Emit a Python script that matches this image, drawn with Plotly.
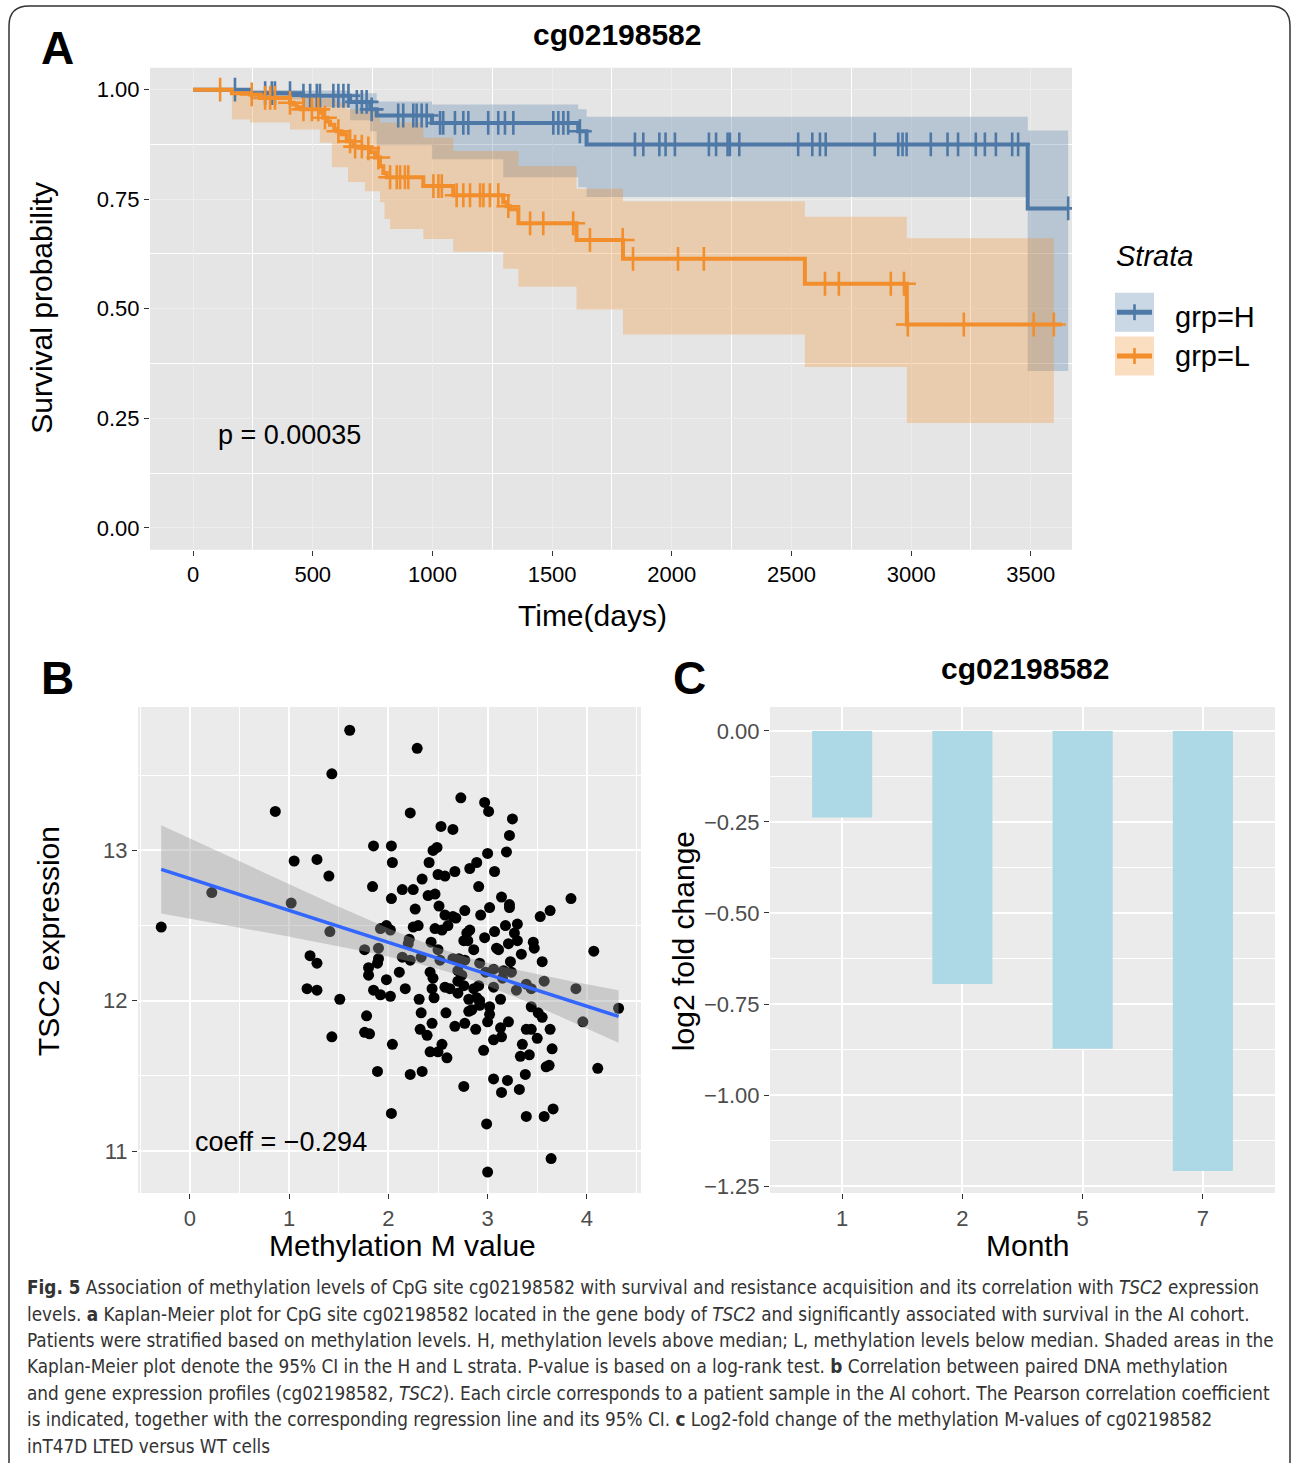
import numpy as np
import plotly.graph_objects as go

W, H = 1293, 1469

# ---------------- Panel A : Kaplan-Meier data ----------------
# grp=H (blue)
H_T = [0, 238, 459, 656, 740, 767, 998, 1609, 1644, 3487]
H_S = [1.0, 0.992, 0.986, 0.972, 0.955, 0.941, 0.924, 0.905, 0.875, 0.729]
H_END = 3656
H_UP_T = [0, 238, 459, 656, 767, 998, 1609, 1644, 3487]
H_UP_V = [1.0, 1.0, 0.998, 0.992, 0.973, 0.966, 0.955, 0.938, 0.907]
H_LO_T = [0, 238, 459, 656, 740, 767, 998, 1296, 1609, 1644, 3487]
H_LO_V = [1.0, 0.978, 0.96, 0.93, 0.905, 0.873, 0.841, 0.80, 0.777, 0.755, 0.358]
H_CENS = [175, 301, 329, 342, 405, 461, 489, 517, 530, 586, 607, 628, 649, 684, 705,
          725, 746, 857, 878, 920, 934, 955, 976, 1032, 1045, 1094, 1129, 1150, 1233,
          1275, 1303, 1338, 1505, 1526, 1547, 1567, 1616, 1846, 1881, 1948, 1974, 2013,
          2155, 2185, 2233, 2243, 2282, 2528, 2587, 2619, 2643, 2848, 2946, 2964, 2981,
          3082, 3152, 3196, 3270, 3308, 3354, 3422, 3447, 3656]

# grp=L (orange)
L_T = [0, 162, 238, 280, 405, 420, 433, 450, 530, 544, 560, 572, 590, 600, 620, 642,
       670, 711, 739, 760, 781, 795, 809, 962, 1087, 1296, 1310, 1324, 1359, 1602,
       1796, 2556, 2982]
L_S = [1.0, 0.992, 0.989, 0.981, 0.970, 0.966, 0.960, 0.955, 0.947, 0.936, 0.927,
       0.920, 0.910, 0.905, 0.898, 0.882, 0.870, 0.866, 0.857, 0.845, 0.825, 0.810,
       0.800, 0.780, 0.759, 0.743, 0.734, 0.727, 0.695, 0.657, 0.614, 0.557, 0.464]
L_END = 3630
L_UP_T = [0, 162, 405, 530, 600, 642, 781, 962, 1087, 1359, 1602, 1796, 2556, 2982]
L_UP_V = [1.0, 0.997, 0.99, 0.98, 0.97, 0.955, 0.925, 0.89, 0.86, 0.826, 0.774,
          0.745, 0.71, 0.661]
L_LO_T = [0, 162, 238, 405, 530, 580, 647, 718, 781, 800, 823, 962, 1087, 1296, 1359,
          1602, 1796, 2556, 2982]
L_LO_V = [1.0, 0.932, 0.925, 0.909, 0.879, 0.823, 0.789, 0.768, 0.743, 0.705, 0.682,
          0.659, 0.630, 0.591, 0.550, 0.498, 0.441, 0.367, 0.239]
L_BAND_END = 3596
L_CENS = [113, 245, 301, 322, 342, 405, 461, 496, 523, 551, 607, 656, 677, 705, 732,
          774, 823, 851, 865, 885, 899, 1004, 1025, 1039, 1101, 1129, 1157, 1199, 1213,
          1240, 1275, 1317, 1408, 1463, 1588, 1658, 1795, 1838, 2026, 2134, 2640, 2698,
          2915, 2970, 2986, 3220, 3512, 3596]

A_XTICKS = [0, 500, 1000, 1500, 2000, 2500, 3000, 3500]
A_YTICKS = [0.0, 0.25, 0.5, 0.75, 1.0]

# ---------------- Panel B : methylation vs expression ----------------
M_VAL = [-0.29, 0.22, 0.86, 1.02, 1.05, 1.28, 1.40, 1.43, 1.61, 2.29, 2.73, 2.97, 3.01,
         3.25, 2.22, 2.53, 2.65, 3.22, 3.19, 3.00, 1.85, 2.03, 2.45, 2.49, 2.04, 2.41,
         3.07, 2.89, 2.82, 2.67, 2.50, 2.57, 2.34, 1.84, 2.91, 2.14, 2.25, 2.40, 2.47,
         2.03, 3.14, 3.22, 3.22, 3.84, 3.63, 3.53, 2.51, 2.27, 2.57, 2.65, 2.68, 2.77,
         3.02, 2.93, 1.41, 1.92, 1.98, 2.02, 2.25, 2.30, 2.47, 2.54, 2.60, 2.79, 2.82,
         3.18, 3.30, 3.07, 2.97, 3.27, 2.76, 3.21, 3.30, 3.09, 3.46, 3.47, 2.86, 3.34,
         4.07, 2.43, 2.21, 2.20, 2.50, 1.76, 1.90, 1.21, 2.71, 3.23, 3.55, 2.14, 2.33,
         1.90, 2.92, 1.28, 1.80, 1.89, 1.80, 2.22, 2.52, 2.65, 3.06, 3.16, 3.24, 2.70,
         2.74, 2.98, 2.42, 2.45, 3.06, 3.15, 3.29, 3.39, 3.44, 3.57, 3.89, 4.32, 3.96,
         1.98, 2.11, 2.17, 1.85, 1.92, 2.02, 1.18, 1.28, 1.51, 2.31, 2.44, 2.46, 2.57,
         2.62, 2.70, 2.76, 2.86, 2.91, 2.89, 2.92, 2.81, 3.13, 3.44, 3.51, 3.55, 3.02,
         3.02, 2.81, 2.92, 2.33, 2.58, 1.78, 1.76, 1.81, 1.43, 2.04, 2.32, 2.39, 2.44,
         2.67, 2.77, 2.88, 3.00, 3.13, 3.21, 3.14, 3.06, 3.39, 3.44, 3.63, 3.50, 3.65,
         3.35, 2.96, 2.54, 2.42, 2.50, 2.59, 3.33, 3.42, 4.11, 3.59, 3.62, 3.38, 1.89,
         2.22, 2.34, 2.76, 3.06, 3.20, 3.14, 3.32, 2.03, 2.99, 3.39, 3.57, 3.66, 3.64,
         3.00, 2.80, 2.77, 2.70, 3.11, 2.84]
E_VAL = [12.49, 12.72, 13.26, 12.65, 12.93, 12.94, 12.83, 13.51, 13.80, 13.68, 13.35,
         13.32, 13.26, 13.21, 13.25, 13.16, 13.14, 13.10, 12.99, 12.98, 13.03, 13.03,
         13.00, 13.02, 12.92, 12.92, 12.86, 12.92, 12.88, 12.86, 12.84, 12.83, 12.81,
         12.76, 12.76, 12.74, 12.74, 12.70, 12.71, 12.68, 12.69, 12.64, 12.62, 12.68,
         12.60, 12.56, 12.63, 12.61, 12.57, 12.56, 12.55, 12.60, 12.62, 12.57, 12.46,
         12.48, 12.50, 12.47, 12.49, 12.50, 12.48, 12.47, 12.50, 12.45, 12.47, 12.50,
         12.51, 12.46, 12.42, 12.45, 12.40, 12.38, 12.40, 12.35, 12.39, 12.35, 12.34,
         12.31, 12.33, 12.39, 12.41, 12.38, 12.34, 12.34, 12.35, 12.30, 12.28, 12.26,
         12.26, 12.29, 12.29, 12.28, 12.25, 12.25, 12.22, 12.25, 12.17, 12.27, 12.27,
         12.28, 12.21, 12.20, 12.19, 12.20, 12.17, 12.19, 12.19, 12.15, 12.09, 12.15,
         12.07, 12.11, 12.08, 12.13, 12.08, 11.95, 11.86, 12.14, 12.19, 12.08, 12.07,
         12.04, 12.03, 12.08, 12.07, 12.01, 12.01, 12.08, 12.02, 12.09, 12.08, 12.05,
         12.10, 12.08, 12.10, 12.02, 12.00, 12.01, 12.01, 11.96, 11.92, 11.89, 11.96,
         11.91, 11.93, 11.97, 11.92, 11.92, 11.90, 11.79, 11.78, 11.76, 11.71, 11.81,
         11.77, 11.85, 11.83, 11.85, 11.81, 11.86, 11.82, 11.86, 11.76, 11.74, 11.81,
         11.81, 11.81, 11.75, 11.68, 11.71, 11.67, 11.71, 11.66, 11.66, 11.62, 11.63,
         11.64, 11.55, 11.56, 11.57, 11.51, 11.53, 11.51, 11.53, 11.43, 11.48, 11.47,
         11.39, 11.41, 11.25, 11.18, 11.23, 11.23, 11.28, 10.95, 10.86, 12.40, 12.27,
         12.13, 12.34, 11.94]
B_XTICKS = [0, 1, 2, 3, 4]
B_YTICKS = [11, 12, 13]

# ---------------- Panel C : log2 fold change ----------------
MONTHS = ["1", "2", "5", "7"]
LOG2FC = [-0.238, -0.695, -0.873, -1.209]
C_YTICKS = [0.0, -0.25, -0.5, -0.75, -1.0, -1.25]

CAPTION = [
    "<b>Fig. 5</b> Association of methylation levels of CpG site cg02198582 with survival and resistance acquisition and its correlation with <i>TSC2</i> expression",
    "levels. <b>a</b> Kaplan-Meier plot for CpG site cg02198582 located in the gene body of <i>TSC2</i> and significantly associated with survival in the AI cohort.",
    "Patients were stratified based on methylation levels. H, methylation levels above median; L, methylation levels below median. Shaded areas in the",
    "Kaplan-Meier plot denote the 95% CI in the H and L strata. P-value is based on a log-rank test. <b>b</b> Correlation between paired DNA methylation",
    "and gene expression profiles (cg02198582, <i>TSC2</i>). Each circle corresponds to a patient sample in the AI cohort. The Pearson correlation coefficient",
    "is indicated, together with the corresponding regression line and its 95% CI. <b>c</b> Log2-fold change of the methylation M-values of cg02198582",
    "inT47D LTED versus WT cells",
]

# ---------------- helpers ----------------
FONT = "Liberation Sans, Arial, Helvetica, sans-serif"
BLUE = "#4E79A7"
ORANGE = "#F28E2B"


def step_xy(t, v, t_end):
    xs, ys = [], []
    for i in range(len(t)):
        nxt = t[i + 1] if i + 1 < len(t) else t_end
        xs += [t[i], nxt]
        ys += [v[i], v[i]]
    return xs, ys


def band(ut, uv, lt, lv, t_end):
    ux, uy = step_xy(ut, uv, t_end)
    lx, ly = step_xy(lt, lv, t_end)
    return ux + lx[::-1], uy + ly[::-1]


def surv_at(t, s, times):
    idx = np.searchsorted(np.array(t), np.array(times), side="right") - 1
    return [s[i] for i in idx]


def px(x, y):
    return x / W, 1 - y / H


fig = go.Figure()

# ---- Panel A traces ----
bx, by = band(H_UP_T, H_UP_V, H_LO_T, H_LO_V, H_END)
fig.add_trace(go.Scatter(x=bx, y=by, fill="toself", fillcolor="rgba(78,121,167,0.3)",
                         line=dict(width=0), mode="lines", hoverinfo="skip",
                         showlegend=False, xaxis="x", yaxis="y"))
bx, by = band(L_UP_T, L_UP_V, L_LO_T, L_LO_V, L_BAND_END)
fig.add_trace(go.Scatter(x=bx, y=by, fill="toself", fillcolor="rgba(242,142,43,0.3)",
                         line=dict(width=0), mode="lines", hoverinfo="skip",
                         showlegend=False, xaxis="x", yaxis="y"))
for T, S, END, CENS, col in [(H_T, H_S, H_END, H_CENS, BLUE),
                             (L_T, L_S, L_END, L_CENS, ORANGE)]:
    fig.add_trace(go.Scatter(x=T + [END], y=S + [S[-1]], mode="lines",
                             line=dict(color=col, width=4, shape="hv"),
                             showlegend=False, xaxis="x", yaxis="y"))
    fig.add_trace(go.Scatter(x=CENS, y=surv_at(T, S, CENS), mode="markers",
                             marker=dict(symbol="cross-thin", size=17,
                                         line=dict(color=col, width=2.6)),
                             showlegend=False, xaxis="x", yaxis="y"))

# ---- Panel B traces ----
mx = np.array(M_VAL)
ey = np.array(E_VAL)
fig.add_trace(go.Scatter(x=M_VAL, y=E_VAL, mode="markers",
                         marker=dict(color="black", size=11),
                         showlegend=False, xaxis="x2", yaxis="y2"))
slope, icpt = np.polyfit(mx, ey, 1)
n = len(mx)
resid = ey - (slope * mx + icpt)
s_err = np.sqrt(np.sum(resid ** 2) / (n - 2))
sxx = np.sum((mx - mx.mean()) ** 2)
xg = np.linspace(mx.min(), mx.max(), 80)
yg = slope * xg + icpt
se = s_err * np.sqrt(1 / n + (xg - mx.mean()) ** 2 / sxx)
tq = 1.972
fig.add_trace(go.Scatter(x=list(xg) + list(xg[::-1]),
                         y=list(yg + tq * se) + list((yg - tq * se)[::-1]),
                         fill="toself", fillcolor="rgba(153,153,153,0.4)",
                         line=dict(width=0), mode="lines", hoverinfo="skip",
                         showlegend=False, xaxis="x2", yaxis="y2"))
fig.add_trace(go.Scatter(x=xg, y=yg, mode="lines", line=dict(color="#3366FF", width=3.5),
                         showlegend=False, xaxis="x2", yaxis="y2"))

# ---- Panel C traces ----
fig.add_trace(go.Bar(x=MONTHS, y=LOG2FC, width=0.5, marker=dict(color="#ADD8E6", line=dict(width=0)),
                     showlegend=False, xaxis="x3", yaxis="y3"))

# ---- axes ----
tickA = dict(family=FONT, size=22, color="black")
tickBC = dict(family=FONT, size=22, color="#4D4D4D")
common = dict(ticks="outside", ticklen=5, tickwidth=1.2, tickcolor="#333333",
              showline=False, zeroline=False)

xa = px(150, 0)[0], px(1072, 0)[0]
ya = px(0, 552)[1], px(0, 68)[1]
xb = px(138, 0)[0], px(641, 0)[0]
yb = px(0, 1198)[1], px(0, 710)[1]
xc = px(770, 0)[0], px(1275, 0)[0]

fig.update_layout(
    xaxis=dict(domain=list(xa), anchor="y", range=[-180, 3672], tickvals=A_XTICKS,
               showgrid=True, gridcolor="#EDEDED", gridwidth=1, tickfont=tickA,
               minor=dict(tick0=250, dtick=500, showgrid=True, gridcolor="white",
                          gridwidth=1.3, ticks=""), **common),
    yaxis=dict(domain=list(ya), anchor="x", range=[-0.05, 1.05], tickvals=A_YTICKS,
               tickformat=".2f", showgrid=True, gridcolor="#EDEDED", gridwidth=1,
               tickfont=tickA,
               minor=dict(tick0=0.125, dtick=0.25, showgrid=True, gridcolor="white",
                          gridwidth=1.3, ticks=""), **common),
    xaxis2=dict(domain=list(xb), anchor="y2", range=[-0.524, 4.546], tickvals=B_XTICKS,
                showgrid=True, gridcolor="white", gridwidth=2.2, tickfont=tickBC,
                minor=dict(tick0=0.5, dtick=1, showgrid=True, gridcolor="white",
                           gridwidth=1.1, ticks=""), **common),
    yaxis2=dict(domain=list(yb), anchor="x2", range=[10.72, 13.954], tickvals=B_YTICKS,
                showgrid=True, gridcolor="white", gridwidth=2.2, tickfont=tickBC,
                minor=dict(tick0=10.5, dtick=1, showgrid=True, gridcolor="white",
                           gridwidth=1.1, ticks=""), **common),
    xaxis3=dict(domain=list(xc), anchor="y3", type="category", range=[-0.6, 3.6],
                showgrid=True, gridcolor="white", gridwidth=2.2, tickfont=tickBC, **common),
    yaxis3=dict(domain=list(yb), anchor="x3", range=[-1.2695, 0.0656], tickvals=C_YTICKS,
                tickformat=".2f", showgrid=True, gridcolor="white", gridwidth=2.2,
                tickfont=tickBC,
                minor=dict(tick0=-0.125, dtick=0.25, showgrid=True, gridcolor="white",
                           gridwidth=1.1, ticks=""), **common),
)

shapes = []
# panel backgrounds
for xr, yr, col in [("x", "y", "#E5E5E5"), ("x2", "y2", "#EBEBEB"), ("x3", "y3", "#EBEBEB")]:
    shapes.append(dict(type="rect", xref=xr + " domain", yref=yr + " domain",
                       x0=0, x1=1, y0=0, y1=1, fillcolor=col, line=dict(width=0),
                       layer="below"))

# legend keys for panel A
for (y0, y1, fill, col) in [(294, 333, "rgb(202,215,229)", BLUE),
                            (338, 377, "rgb(251,221,191)", ORANGE)]:
    xa0, ya0 = px(1115, y0)
    xa1, ya1 = px(1154, y1)
    shapes.append(dict(type="rect", xref="paper", yref="paper", x0=xa0, x1=xa1,
                       y0=ya1, y1=ya0, fillcolor=fill, line=dict(width=0)))
    ym = (y0 + y1) / 2
    lx0, ly = px(1117, ym)
    lx1, _ = px(1152, ym)
    shapes.append(dict(type="line", xref="paper", yref="paper", x0=lx0, x1=lx1,
                       y0=ly, y1=ly, line=dict(color=col, width=5)))
    cx, cy0 = px(1134.5, ym - 8)
    _, cy1 = px(1134.5, ym + 8)
    shapes.append(dict(type="line", xref="paper", yref="paper", x0=cx, x1=cx,
                       y0=cy0, y1=cy1, line=dict(color=col, width=2.6)))

# outer rounded border
def pp(x, y):
    a, b = px(x, y)
    return f"{a:.5f},{b:.5f}"

border = (f"M {pp(9, 1469)} L {pp(9, 26)} Q {pp(9, 6)} {pp(29, 6)} "
          f"L {pp(1270, 6)} Q {pp(1290, 6)} {pp(1290, 26)} L {pp(1290, 1469)}")
shapes.append(dict(type="path", xref="paper", yref="paper", path=border,
                   line=dict(color="#333333", width=1.5)))

annotations = []


def ann(text, x, y, size, xanchor="center", angle=0, color="black", bold=False,
        italic=False, family=FONT):
    if bold:
        text = f"<b>{text}</b>"
    if italic:
        text = f"<i>{text}</i>"
    xp, yp = px(x, y)
    annotations.append(dict(text=text, x=xp, y=yp, xref="paper", yref="paper",
                            xanchor=xanchor, yanchor="middle", showarrow=False,
                            textangle=angle, font=dict(family=family, size=size, color=color)))


ann("A", 57, 48, 46, bold=True)
ann("B", 57, 681, 46, bold=True)
ann("C", 690, 681, 46, bold=True)
ann("cg02198582", 617, 35, 30, bold=True)
ann("cg02198582", 1025, 671, 30, bold=True)
ann("Survival probability", 42, 309, 30, angle=-90)
ann("Time(days)", 592, 618, 30)
ann("p = 0.00035", 216, 437, 27, xanchor="left")
ann("Strata", 1114, 257, 29, xanchor="left", italic=True)
ann("grp=H", 1173, 318, 29, xanchor="left")
ann("grp=L", 1173, 357, 29, xanchor="left")
ann("TSC2 expression", 48, 945, 30, angle=-90)
ann("Methylation M value", 402, 1251, 30)
ann("coeff = \u22120.294", 193, 1147, 27, xanchor="left")
ann("log2 fold change", 683, 945, 30, angle=-90)
ann("Month", 1027, 1251, 30)

CAP_FONT = "Liberation Sans Narrow, DejaVu Sans Condensed, Lato, sans-serif"
for i, line in enumerate(CAPTION):
    ann(line, 25, 1293 + i * 26.5, 18.8, xanchor="left", color="#333333", family=CAP_FONT)

fig.update_layout(width=W, height=H, autosize=False,
                  margin=dict(l=0, r=0, t=0, b=0),
                  paper_bgcolor="white", plot_bgcolor="rgba(0,0,0,0)",
                  shapes=shapes, annotations=annotations, showlegend=False,
                  bargap=0.5)

fig.write_html("out.html", config={"displayModeBar": False},
               post_script="document.body.style.margin='0px';document.body.style.padding='0px';")
